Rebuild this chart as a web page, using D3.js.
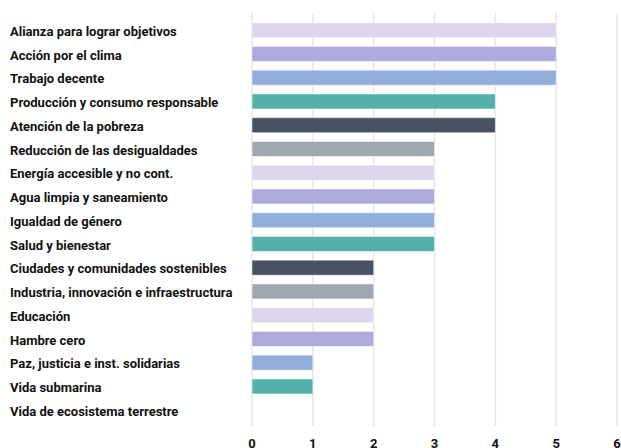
<!DOCTYPE html>
<html><head><meta charset="utf-8">
<script src="https://cdn.jsdelivr.net/npm/d3@7"></script>
<style>body{margin:0;background:#fff}svg{display:block}</style>
</head><body>
<svg id="c" width="621" height="448"></svg>
<script>
const categories = ["Alianza para lograr objetivos","Acción por el clima","Trabajo decente","Producción y consumo responsable","Atención de la pobreza","Reducción de las desigualdades","Energía accesible y no cont.","Agua limpia y saneamiento","Igualdad de género","Salud y bienestar","Ciudades y comunidades sostenibles","Industria, innovación e infraestructura","Educación","Hambre cero","Paz, justicia e inst. solidarias","Vida submarina","Vida de ecosistema terrestre"];
const values = [5,5,5,4,4,3,3,3,3,3,2,2,2,2,1,1,0];
const tickValues = [0,1,2,3,4,5,6];
const palette = ["#ddd6ee","#aeaadc","#93aedb","#55b0ab","#475364","#a0a7af"];

const svg = d3.select("#c");
const x = d3.scaleLinear().domain([0,6]).range([252,617]);
const y = d3.scaleBand().domain(categories).range([13.2,427.2]).paddingInner(0.368).paddingOuter(0.4);

svg.append("g").selectAll("line").data(tickValues).join("line")
  .attr("x1",d=>x(d)).attr("x2",d=>x(d)).attr("y1",13).attr("y2",426)
  .attr("stroke","#e6e6e6").attr("stroke-width",1.5);

svg.append("g").selectAll("rect").data(values).join("rect")
  .attr("x",x(0)).attr("y",(d,i)=>y(categories[i]))
  .attr("width",d=>x(d)-x(0)).attr("height",y.bandwidth())
  .attr("fill",(d,i)=>palette[i%palette.length])
  .attr("stroke","rgba(255,255,255,0.5)").attr("stroke-width",1);

svg.append("g").selectAll("text").data(categories).join("text")
  .attr("x",10).attr("y",d=>y(d)+y.bandwidth()/2+1).attr("dy","0.36em")
  .attr("font-family","Roboto, sans-serif").attr("font-weight","bold").attr("font-size",13)
  .attr("fill","#111").text(d=>d);

svg.append("g").selectAll("text").data(tickValues).join("text")
  .attr("x",d=>x(d)).attr("y",448).attr("text-anchor","middle")
  .attr("font-family","Roboto, sans-serif").attr("font-weight","bold").attr("font-size",13)
  .attr("fill","#111").text(d=>d);
</script>
</body></html>
